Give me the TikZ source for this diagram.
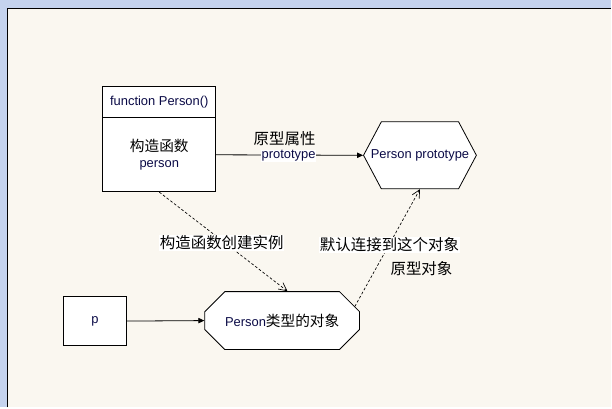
\documentclass[tikz,border=0pt]{standalone}
\usepackage{fontspec}
\setmainfont{Liberation Sans}
\newfontfamily\cjk{Noto Sans CJK SC}
\usetikzlibrary{arrows.meta}
\usetikzlibrary{positioning}
\usetikzlibrary{shapes.symbols}
\usetikzlibrary{shapes.misc}
\definecolor{frameblue}{RGB}{197,211,238}
\definecolor{paper}{RGB}{250,247,240}
\definecolor{txtblue}{RGB}{10,10,70}
\tikzset{box/.style = {draw, fill=white, line width=0.6pt, inner sep=0pt,
                       text=txtblue, font=\fontsize{9.7}{11}\selectfont},
         zh/.style = {font=\cjk\fontsize{11.6}{14}\selectfont, text=black},
         solidarrow/.style = {draw, line width=0.6pt, -{Triangle[length=4.5pt,width=4pt]}},
         dasharrow/.style = {draw, line width=0.5pt, dash pattern=on 2pt off 1.5pt,
                             -{Straight Barb[length=6pt,width=6pt]}}}

\begin{document}
\begin{tikzpicture}[x=0.75pt, y=-0.75pt]
    % window frame
    \fill [frameblue] (0, 0) rectangle (612, 408);
    \fill [paper] (8, 9) rectangle (612, 408);
    \draw [line width=1.2pt] (7.5, 408) -- (7.5, 8.5) -- (612, 8.5);
    \useasboundingbox (0, 0) rectangle (612, 408);

    % constructor
    \node [box, minimum width=84.75pt, minimum height=23.25pt] (fnhead) at (159.5, 102.5) {function Person()};
    \node [box, minimum width=84.75pt, minimum height=55.5pt, below=-0.6pt of fnhead, align=center]
      (fnbody) {{\cjk\fontsize{11}{13}\selectfont\color{black}构造函数}\\[1pt]person};

    % prototype object (text as centre label so the points may overlap it)
    \node [box, signal, signal to=east and west, signal pointer angle=124,
           minimum width=84.75pt, minimum height=50.25pt,
           label={[text=txtblue, font=\fontsize{9.7}{11}\selectfont]center:Person prototype}] (proto) at (420.5, 155.5) {};

    % instance and variable
    \node [box, chamfered rectangle, chamfered rectangle xsep=17.5pt, chamfered rectangle ysep=10pt,
           minimum width=116.25pt, minimum height=43.5pt] (obj) at (282.5, 321)
      {Person{\cjk\fontsize{11}{13}\selectfont\color{black}类型的对象}};
    \node [box, minimum width=48pt, minimum height=36.75pt] (pvar) at (95, 321.5) {p};

    \draw [solidarrow] (fnbody.east) -- (proto.west);
    \draw [solidarrow] (pvar.east) -- (obj.west);
    \draw [dasharrow] (fnbody.south) -- ([xshift=4pt]obj.north);
    \draw [dasharrow] (obj.11) -- (proto.south);

    \node [zh] (lblproto) at (285, 139) {原型属性};
    \node [fill=white, inner sep=0.5pt, text=txtblue, font=\fontsize{9.7}{11}\selectfont] (lblkey) at (289, 156) {prototype};
    \foreach \name/\x/\y/\txt in {lblnew/222/243/构造函数创建实例, lbllink/390/245/默认连接到这个对象} {
      \node [zh, fill=white, inner sep=0.5pt] (\name) at (\x, \y) {\txt};
    }
    \node [zh] (lblobj) at (422, 269) {原型对象};
\end{tikzpicture}
\end{document}
